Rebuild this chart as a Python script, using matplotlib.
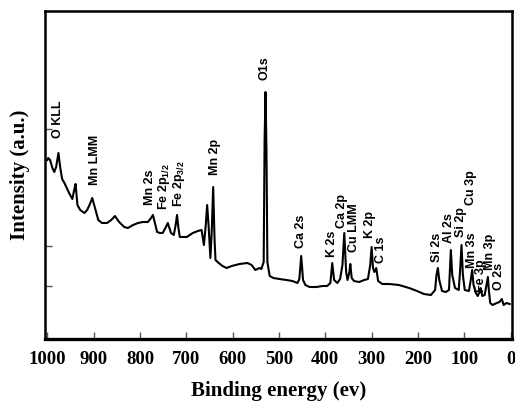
import matplotlib
matplotlib.use("Agg")
import matplotlib.pyplot as plt

plt.rcParams['mathtext.fontset'] = 'custom'
plt.rcParams['mathtext.rm'] = 'Liberation Sans:bold'
plt.rcParams['mathtext.bf'] = 'Liberation Sans:bold'
plt.rcParams['mathtext.it'] = 'Liberation Sans:bold'

# XPS survey spectrum (binding energy in eV, intensity in arbitrary units)
binding_energy = [1000, 998, 994, 989, 985, 981, 976, 972, 968, 963, 959, 953, 946, 942, 939,
                  935, 929, 920, 914, 908, 903, 897, 890, 882, 871, 862, 854, 845, 834, 826,
                  815, 804, 794, 783, 776, 772, 763, 757, 751, 744, 740, 733, 727, 723, 720,
                  717, 714, 699, 686, 675, 667, 662, 658, 655, 652, 648, 645, 642, 639, 637,
                  630, 622, 613, 602, 585, 568, 559, 551, 542, 538, 533, 531, 529, 527, 525,
                  520, 512, 499, 484, 471, 460, 456, 452, 448, 443, 434, 419, 406, 396, 389,
                  385, 381, 374, 368, 363, 359, 355, 352, 348, 346, 343, 338, 327, 316, 308,
                  303, 300, 297, 294, 290, 286, 277, 262, 241, 219, 202, 187, 172, 163, 160,
                  157, 154, 148, 140, 133, 131, 129, 126, 120, 112, 109, 106, 103, 99, 90,
                  86, 83, 80, 75, 71, 67, 65, 61, 56, 52, 49, 47, 44, 39, 30,
                  24, 19, 15, 9, 2]
intensity = [179, 181, 179, 171, 167, 172, 186, 171, 160, 156, 152, 146, 140, 149, 155,
             134, 129, 126, 129, 135, 141, 131, 119, 116, 116, 119, 123, 117, 112, 111,
             114, 116, 117, 117, 121, 124, 107, 106, 106, 112, 116, 106, 104, 114, 124,
             111, 102, 102, 106, 108, 109, 94, 114, 134, 114, 81, 109, 152, 99, 79,
             76, 73, 71, 73, 75, 76, 74, 69, 71, 70, 77, 199, 247, 189, 77,
             63, 61, 60, 59, 58, 56, 60, 83, 59, 54, 52, 52, 53, 53, 56,
             76, 59, 56, 60, 74, 106, 67, 59, 67, 75, 61, 58, 57, 59, 60,
             74, 92, 71, 67, 71, 58, 55, 55, 54, 51, 48, 45, 44, 49, 64,
             71, 59, 48, 47, 49, 69, 89, 64, 51, 49, 69, 94, 64, 49, 48,
             59, 69, 54, 46, 43, 47, 51, 43, 44, 54, 62, 49, 36, 34, 36,
             37, 40, 34, 36, 35]

# peak annotations: text, x position (eV), lower end of the text (intensity units)
label_text = ["O KLL", "Mn LMM", "Mn 2s", "Fe 2p$_{1/2}$", "Fe 2p$_{3/2}$", "Mn 2p", "O1s",
              "Ca 2s", "K 2s", "Ca 2p", "Cu LMM", "K 2p", "C 1s", "Si 2s", "Al 2s", "Si 2p",
              "Cu 3p", "Mn 3s", "Fe 3p", "Mn 3p", "O 2s"]
label_x = [976, 897, 778, 749, 716, 637, 531, 452, 385, 363, 337, 303, 279, 159, 132, 108,
           86, 84, 64, 45, 25]
label_y = [201, 154, 134, 129, 132, 164, 259, 91, 82, 111, 87, 101, 76, 77, 96, 102,
           134, 71, 47, 69, 49]

x_ticks = [1000, 900, 800, 700, 600, 500, 400, 300, 200, 100, 0]
y_ticks = [53, 93, 210]

fig = plt.figure(figsize=(5.15, 4.05), dpi=100)
ax = fig.add_axes([45 / 515, 66 / 405, 467 / 515, 328 / 405])

ax.plot(binding_energy, intensity, color='black', lw=1.5)

for t, x, y in zip(label_text, label_x, label_y):
    ax.text(x, y, t, rotation=90, rotation_mode='anchor', ha='left', va='center',
            fontsize=9, fontweight='bold', family='Liberation Sans', color='black')

ax.set_xlim(1005, -3)
ax.set_ylim(0, 328)
ax.set_xticks(x_ticks)
ax.set_xticklabels([str(v) for v in x_ticks])
ax.set_yticks(y_ticks)
ax.set_yticklabels([])
ax.tick_params(axis='both', direction='in', length=5, width=1, color='#555555')
ax.tick_params(axis='x', pad=9)
for lbl in ax.get_xticklabels():
    lbl.set_fontfamily('Liberation Serif')
    lbl.set_fontweight('bold')
    lbl.set_fontsize(13.5)

for s in ['left', 'top', 'right']:
    ax.spines[s].set_linewidth(1.8)
ax.spines['bottom'].set_linewidth(2.4)

ax.set_xlabel('Binding energy (ev)', family='Liberation Serif', fontweight='bold',
              fontsize=15, labelpad=9)
ax.set_ylabel('Intensity (a.u.)', family='Liberation Serif', fontweight='bold',
              fontsize=15, labelpad=7)

fig.savefig('out.png', dpi=100)
